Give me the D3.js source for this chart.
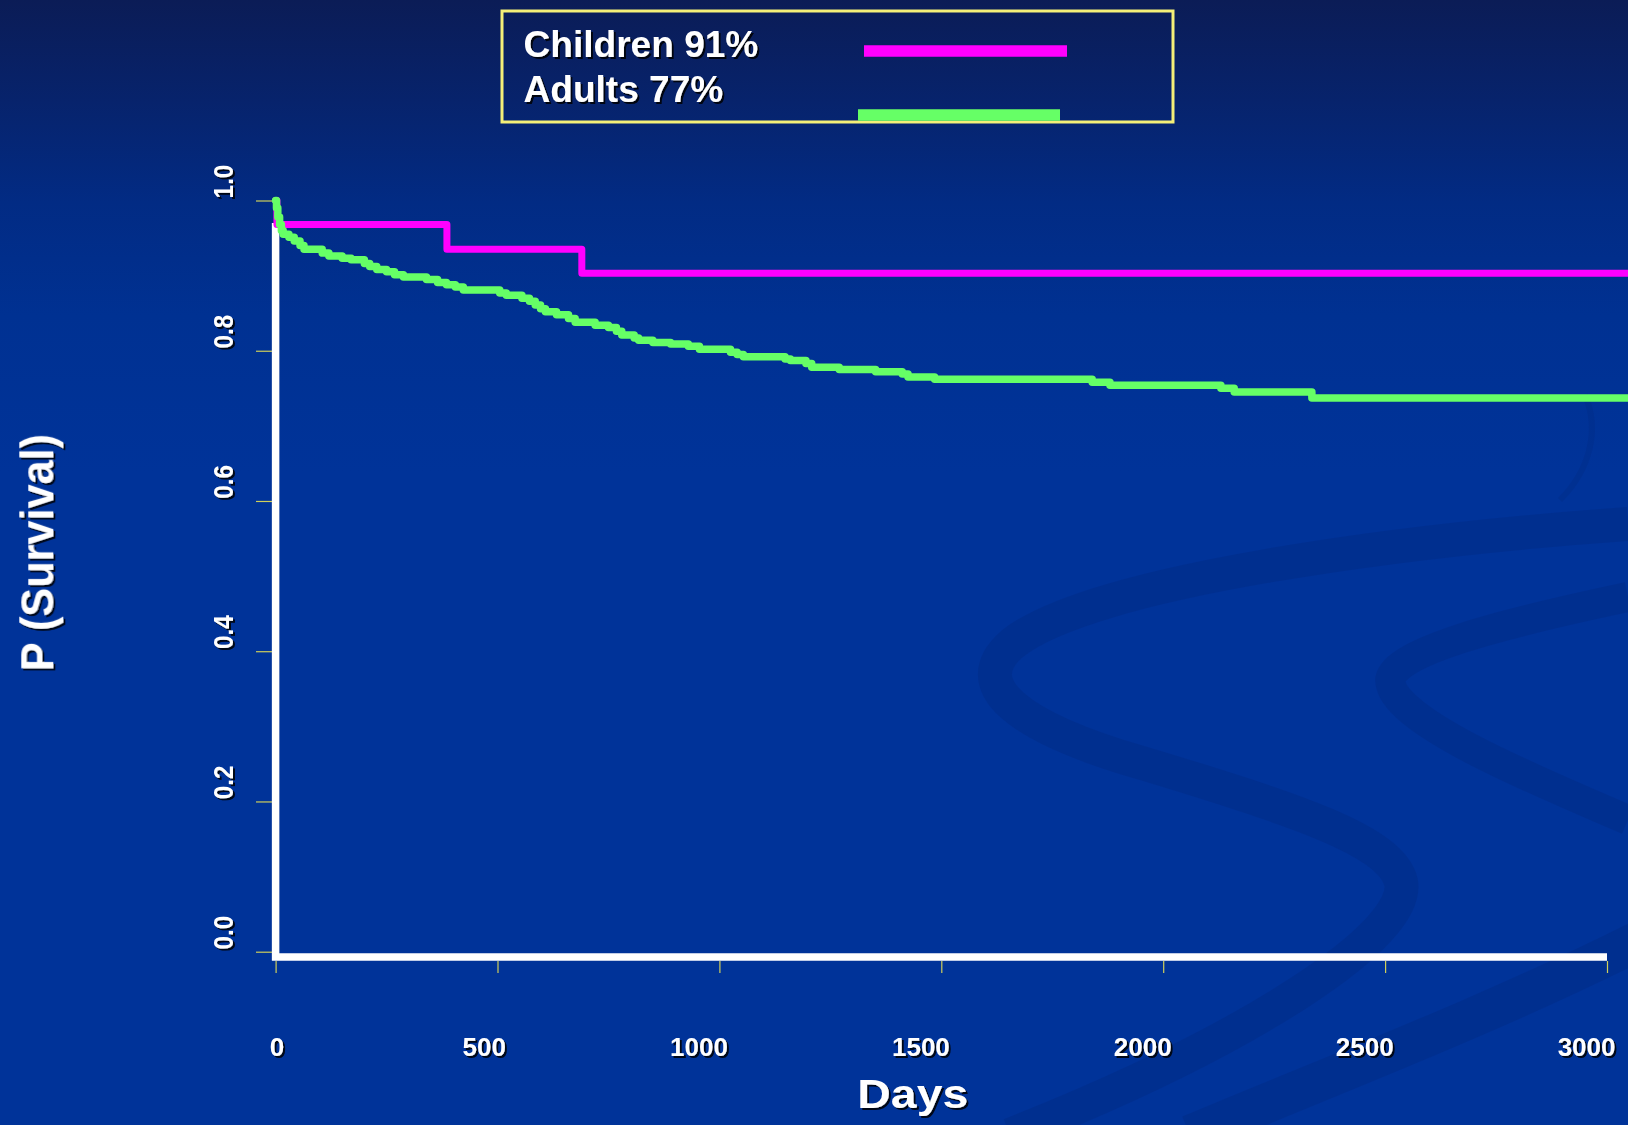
<!DOCTYPE html>
<html>
<head>
<meta charset="utf-8">
<script src="https://cdn.jsdelivr.net/npm/d3@7"></script>
<style>
  html, body { margin: 0; padding: 0; background: #003399; }
  svg { display: block; }
</style>
</head>
<body>
<svg id="chart" width="1628" height="1125"></svg>
<script>
// Kaplan–Meier survival, children vs adults
const xTicks = [0, 500, 1000, 1500, 2000, 2500, 3000];
const yTicks = [0, 0.2, 0.4, 0.6, 0.8, 1.0];
const seriesNames = ["Children 91%", "Adults 77%"];
const xTitle = "Days";
const yTitle = "P (Survival)";

// step points: survival value holds from each day until the next
const childrenDays = [0, 3, 386, 690, 3050];
const childrenSurv = [1.0, 0.968, 0.935, 0.903, 0.903];

const adultDays = [0, 2, 5, 9, 13, 17, 30, 42, 55, 64, 105, 120, 150, 170, 200, 212, 228, 250,
  268, 288, 340, 365, 385, 405, 423, 505, 520, 555, 572, 585, 597, 608, 633, 660, 675, 720,
  750, 768, 780, 808, 818, 850, 890, 930, 955, 1025, 1040, 1054, 1148, 1160, 1195, 1208,
  1270, 1352, 1412, 1425, 1485, 1840, 1880, 2130, 2160, 2335, 3050];
const adultSurv = [1.000, 0.990, 0.978, 0.968, 0.960, 0.955, 0.951, 0.946, 0.940, 0.935,
  0.930, 0.926, 0.923, 0.921, 0.916, 0.912, 0.908, 0.905, 0.901, 0.898, 0.895, 0.891,
  0.888, 0.885, 0.881, 0.877, 0.874, 0.870, 0.866, 0.861, 0.856, 0.852, 0.848, 0.843,
  0.838, 0.834, 0.831, 0.826, 0.821, 0.817, 0.814, 0.811, 0.809, 0.806, 0.802, 0.798,
  0.795, 0.792, 0.789, 0.787, 0.783, 0.778, 0.775, 0.772, 0.769, 0.765, 0.762, 0.758,
  0.754, 0.750, 0.745, 0.737, 0.737];

const W = 1628, H = 1125;
const FONT = "'Liberation Sans', Arial, Helvetica, sans-serif";
const MAGENTA = "#ff00ff", GREEN = "#66ff66", TICK = "#cfcf5a", FRAME = "#f4ef78";

const svg = d3.select("#chart");
const defs = svg.append("defs");

// slide background
const grad = defs.append("linearGradient").attr("id", "bg")
  .attr("x1", 0).attr("y1", 0).attr("x2", 0).attr("y2", 1);
[["0%", "#0b1c56"], ["9%", "#07236c"], ["18%", "#022b84"], ["28%", "#003192"], ["42%", "#003399"], ["100%", "#003399"]]
  .forEach(([o, c]) => grad.append("stop").attr("offset", o).attr("stop-color", c));

const shadow = defs.append("filter").attr("id", "shadow")
  .attr("x", "-10%").attr("y", "-10%").attr("width", "130%").attr("height", "130%");
shadow.append("feDropShadow").attr("dx", 2).attr("dy", 2).attr("stdDeviation", 0.6)
  .attr("flood-color", "#000").attr("flood-opacity", 0.85);

svg.append("rect").attr("width", W).attr("height", H).attr("fill", "url(#bg)");

// decorative swooshes of the slide template
const deco = svg.append("g").attr("fill", "none").attr("stroke", "#00287c").attr("stroke-opacity", 0.3);
deco.append("path").attr("stroke-width", 34)
  .attr("d", "M1628,524 C1401,540 1090,581 1012,644 C965,685 1017,727 1142,763 C1298,810 1391,841 1401,882 C1412,934 1250,1040 1010,1135");
deco.append("path").attr("stroke-width", 30)
  .attr("d", "M1628,597 C1505,623 1380,654 1391,685 C1401,727 1557,789 1628,820");
deco.append("path").attr("stroke-width", 40)
  .attr("d", "M1640,940 C1480,1020 1320,1080 1190,1135");
deco.append("path").attr("stroke-width", 6).attr("stroke-opacity", 0.25)
  .attr("d", "M1585,395 C1600,430 1590,470 1560,500");

// scales
const x = d3.scaleLinear().domain([0, 3000]).range([275.6, 1607]);
const y = d3.scaleLinear().domain([0, 1]).range([951.7, 200.5]);

// y axis ticks
const gy = svg.append("g").attr("transform", `translate(${x(0) - 3.6},0)`)
  .call(d3.axisLeft(y).tickValues(yTicks).tickSize(16).tickFormat(""));
gy.select(".domain").remove();
gy.selectAll(".tick line").attr("stroke", TICK).attr("stroke-width", 1.2);

// y tick labels, rotated
svg.append("g").attr("filter", "url(#shadow)")
  .selectAll("text").data(yTicks).join("text")
  .attr("transform", d => `translate(233,${y(d) - 19}) rotate(-90) scale(0.9,1)`)
  .attr("text-anchor", "middle")
  .attr("font-family", FONT).attr("font-weight", "bold").attr("font-size", 27)
  .attr("fill", "#fff")
  .text(d => d3.format(".1f")(d));

// x axis ticks and labels
const gx = svg.append("g").attr("transform", "translate(0,961)")
  .call(d3.axisBottom(x).tickValues(xTicks).tickSize(12).tickFormat(d3.format("d")));
gx.attr("font-size", null).attr("font-family", null);
gx.select(".domain").remove();
gx.selectAll(".tick line").attr("stroke", TICK).attr("stroke-width", 1.2);
gx.selectAll(".tick text")
  .attr("y", 94.7).attr("dy", null).attr("x", 8)
  .attr("text-anchor", "end")
  .attr("font-family", FONT).attr("font-weight", "bold").attr("font-size", 26)
  .attr("fill", "#fff").attr("filter", "url(#shadow)");

// white L-frame
const plain = d3.line().x(d => x(d[0])).y(d => y(d[1]));
svg.append("path")
  .attr("d", plain([[0, 0.97], [0, -0.007], [3000, -0.007]]))
  .attr("fill", "none").attr("stroke", "#fff").attr("stroke-width", 7.5)
  .attr("stroke-linejoin", "miter");

// survival curves
const step = d3.line().x(d => x(d[0])).y(d => y(d[1])).curve(d3.curveStepAfter);
const children = childrenDays.map((d, i) => [d, childrenSurv[i]]);
const adults = adultDays.map((d, i) => [d, adultSurv[i]]);

svg.append("path").attr("d", step(children))
  .attr("fill", "none").attr("stroke", MAGENTA).attr("stroke-width", 7)
  .attr("stroke-linejoin", "round").attr("stroke-linecap", "round");
svg.append("path").attr("d", step(adults))
  .attr("fill", "none").attr("stroke", GREEN).attr("stroke-width", 7.5)
  .attr("stroke-linejoin", "round").attr("stroke-linecap", "round");

// axis titles
const titles = svg.append("g").attr("filter", "url(#shadow)")
  .attr("font-family", FONT).attr("font-weight", "bold").attr("fill", "#fff");
titles.append("text")
  .attr("transform", "translate(912.8,1107.7) scale(1.16,1)")
  .attr("text-anchor", "middle").attr("font-size", 40)
  .text(xTitle);
titles.append("text")
  .attr("transform", "translate(53.3,552.5) rotate(-90) scale(0.94,1)")
  .attr("text-anchor", "middle").attr("font-size", 46)
  .text(yTitle);

// legend
const legend = svg.append("g");
legend.append("rect")
  .attr("x", 502).attr("y", 11).attr("width", 671).attr("height", 111)
  .attr("fill", "none").attr("stroke", FRAME).attr("stroke-width", 3);
const legendRows = [
  { name: seriesNames[0], color: MAGENTA, base: 57, x1: 864, x2: 1067, ly: 51 },
  { name: seriesNames[1], color: GREEN, base: 102, x1: 858, x2: 1060, ly: 115 }
];
legend.append("g").attr("filter", "url(#shadow)")
  .selectAll("text").data(legendRows).join("text")
  .attr("transform", d => `translate(523.5,${d.base}) scale(1.03,1)`)
  .attr("font-family", FONT).attr("font-weight", "bold").attr("font-size", 36)
  .attr("fill", "#fff")
  .text(d => d.name);
legend.selectAll("line").data(legendRows).join("line")
  .attr("x1", d => d.x1).attr("x2", d => d.x2)
  .attr("y1", d => d.ly).attr("y2", d => d.ly)
  .attr("stroke", d => d.color).attr("stroke-width", 11.5);
</script>
</body>
</html>
